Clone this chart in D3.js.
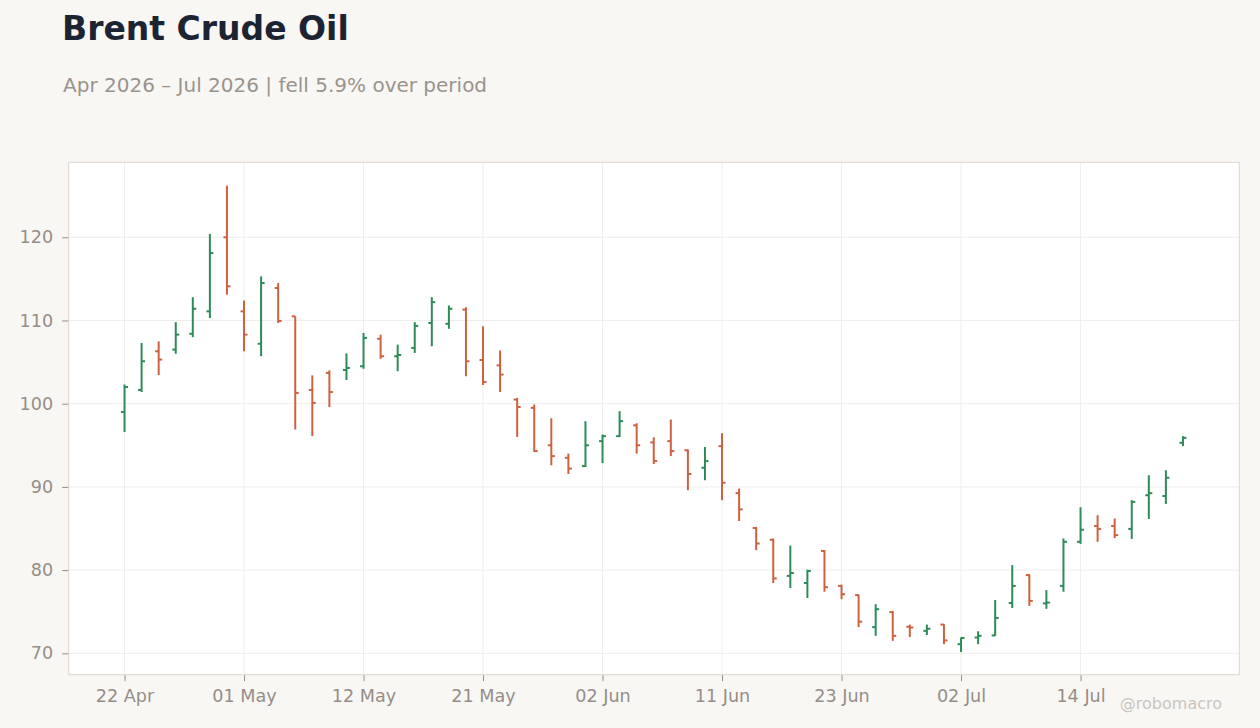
<!DOCTYPE html>
<html>
<head>
<meta charset="utf-8">
<script src="https://cdn.jsdelivr.net/npm/d3@7"></script>
<style>
  html, body { margin: 0; padding: 0; background: #f9f7f4; }
  svg { display: block; font-family: "DejaVu Sans", sans-serif; }
</style>
</head>
<body>
<svg id="chart" width="1260" height="728"></svg>
<script>
// ---- data ----
const dates = [
  "2026-04-22","2026-04-23","2026-04-24","2026-04-27","2026-04-28","2026-04-29","2026-04-30",
  "2026-05-01","2026-05-04","2026-05-05","2026-05-06","2026-05-07","2026-05-08","2026-05-11",
  "2026-05-12","2026-05-13","2026-05-14","2026-05-15","2026-05-18","2026-05-19","2026-05-20",
  "2026-05-21","2026-05-22","2026-05-26","2026-05-27","2026-05-28","2026-05-29","2026-06-01",
  "2026-06-02","2026-06-03","2026-06-04","2026-06-05","2026-06-08","2026-06-09","2026-06-10",
  "2026-06-11","2026-06-12","2026-06-15","2026-06-16","2026-06-17","2026-06-18","2026-06-22",
  "2026-06-23","2026-06-24","2026-06-25","2026-06-26","2026-06-29","2026-06-30","2026-07-01",
  "2026-07-02","2026-07-06","2026-07-07","2026-07-08","2026-07-09","2026-07-10","2026-07-13",
  "2026-07-14","2026-07-15","2026-07-16","2026-07-17","2026-07-20","2026-07-21","2026-07-22"
];
const open = [
  99.0,101.65,106.3,106.5,108.4,111.1,120.0,111.1,107.2,113.9,110.5,101.65,103.7,104.05,
  104.5,107.8,105.7,106.7,109.7,109.6,111.3,105.25,104.6,100.5,99.5,95.0,93.5,92.5,
  95.5,96.1,97.4,95.35,95.5,94.4,92.3,94.9,89.25,85.06,83.65,79.3,78.45,82.3,
  78.1,77.0,73.15,74.95,73.2,72.7,73.45,71.1,71.9,72.15,76.05,79.4,76.0,78.1,
  83.4,85.3,85.3,84.95,89.0,88.9,95.3
];
const high = [
  102.3,107.3,107.5,109.8,112.8,120.4,126.2,112.4,115.3,114.5,110.5,103.4,104.0,106.05,
  108.5,108.3,107.1,109.8,112.8,111.8,111.6,109.3,106.4,100.7,99.9,98.25,94.0,97.9,
  96.3,99.1,97.65,95.96,98.1,94.5,94.8,96.45,89.8,85.2,83.8,82.95,80.05,82.4,
  78.25,77.05,75.9,75.1,73.45,73.45,73.5,71.9,72.65,76.4,80.6,79.5,77.6,83.8,
  87.55,86.6,86.2,88.4,91.4,92.0,96.1
];
const low = [
  96.6,101.4,103.45,106.0,108.0,110.3,113.1,106.3,105.7,109.7,96.9,96.1,99.6,102.85,
  104.2,105.4,103.9,106.1,106.9,109.0,103.3,102.25,101.4,96.0,94.2,92.6,91.55,92.4,
  92.85,96.0,94.0,92.75,93.7,89.6,90.8,88.4,85.9,82.4,78.45,77.85,76.65,77.4,
  76.5,73.15,72.1,71.5,71.95,72.2,71.1,70.15,71.1,72.1,75.45,75.7,75.35,77.4,
  83.15,83.4,83.85,83.75,86.15,87.95,94.9
];
const close = [
  102.0,105.1,105.3,108.3,111.4,118.1,114.1,108.3,114.5,109.95,101.3,100.1,101.4,104.3,
  107.9,105.7,105.85,109.35,112.2,111.4,105.1,102.6,103.5,99.6,94.3,93.7,92.2,95.0,
  96.1,97.9,95.0,93.1,94.3,91.55,93.1,90.5,87.3,83.2,79.0,79.65,79.9,77.95,
  77.1,73.8,75.3,72.1,73.1,72.95,71.55,71.85,72.1,74.25,78.1,76.3,76.1,83.4,
  84.85,84.95,84.2,88.2,89.25,91.1,95.9
];
const xTickIndex = [0, 7, 14, 21, 28, 35, 42, 49, 56];
const xTickLabels = ["22 Apr","01 May","12 May","21 May","02 Jun","11 Jun","23 Jun","02 Jul","14 Jul"];
const yTicks = [70, 80, 90, 100, 110, 120];

const title = "Brent Crude Oil";
const subtitle = "Apr 2026 \u2013 Jul 2026 | fell 5.9% over period";
const credit = "@robomacro";

// ---- layout ----
const plot = { left: 68.7, right: 1239.3, top: 162.3, bottom: 674.7 };
const colors = { up: "#2e8b57", down: "#cf6140", grid: "#efeeec", frame: "#ddd6ce",
                 tick: "#958e87", title: "#1c2434", sub: "#9a938c", credit: "#c9c5c0" };

const svg = d3.select("#chart");

const x = d3.scaleLinear().domain([-3.27, 65.3]).range([plot.left, plot.right]);
const y = d3.scaleLinear().domain([67.43, 129.01]).range([plot.bottom, plot.top]);

// title
svg.append("text").attr("x", 62).attr("y", 40)
  .attr("font-size", 33).attr("font-weight", "bold").attr("fill", colors.title).text(title);
svg.append("text").attr("x", 63).attr("y", 92)
  .attr("font-size", 20).attr("fill", colors.sub).text(subtitle);

// plot background
svg.append("rect").attr("x", plot.left).attr("y", plot.top)
  .attr("width", plot.right - plot.left).attr("height", plot.bottom - plot.top)
  .attr("fill", "#ffffff");

// grid
const g = svg.append("g");
g.selectAll("line.hg").data(yTicks).enter().append("line")
  .attr("x1", plot.left).attr("x2", plot.right)
  .attr("y1", d => y(d)).attr("y2", d => y(d))
  .attr("stroke", colors.grid).attr("stroke-width", 1);
g.selectAll("line.vg").data(xTickIndex).enter().append("line")
  .attr("y1", plot.top).attr("y2", plot.bottom)
  .attr("x1", d => x(d)).attr("x2", d => x(d))
  .attr("stroke", colors.grid).attr("stroke-width", 1);

// frame
svg.append("rect").attr("x", plot.left).attr("y", plot.top)
  .attr("width", plot.right - plot.left).attr("height", plot.bottom - plot.top)
  .attr("fill", "none").attr("stroke", colors.frame).attr("stroke-width", 1);

// axes
const yAxis = d3.axisLeft(y).tickValues(yTicks).tickSize(6).tickPadding(9);
const yg = svg.append("g").attr("transform", `translate(${plot.left - 0.5},0)`).call(yAxis);
yg.select(".domain").remove();
yg.selectAll("line").attr("stroke", colors.tick);
yg.selectAll("text").attr("font-size", 17.6).attr("fill", colors.tick)
  .attr("font-family", "DejaVu Sans");

const xAxis = d3.axisBottom(x).tickValues(xTickIndex)
  .tickFormat((d, i) => xTickLabels[i]).tickSize(6).tickPadding(8);
const xg = svg.append("g").attr("transform", `translate(0,${plot.bottom + 0.5})`).call(xAxis);
xg.select(".domain").remove();
xg.selectAll("line").attr("stroke", colors.tick);
xg.selectAll("text").attr("font-size", 17.6).attr("fill", colors.tick)
  .attr("font-family", "DejaVu Sans");

// OHLC bars
const bars = dates.map((d, i) => ({ i, o: open[i], h: high[i], l: low[i], c: close[i] }));
const tickLen = 3.5;
const bg = svg.append("g");
const bar = bg.selectAll("g.bar").data(bars).enter().append("g")
  .attr("stroke", d => d.c >= d.o ? colors.up : colors.down)
  .attr("stroke-width", 2);
bar.append("line")
  .attr("x1", d => x(d.i)).attr("x2", d => x(d.i))
  .attr("y1", d => y(d.h)).attr("y2", d => y(d.l));
bar.append("line")
  .attr("x1", d => x(d.i) - tickLen).attr("x2", d => x(d.i))
  .attr("y1", d => y(d.o)).attr("y2", d => y(d.o));
bar.append("line")
  .attr("x1", d => x(d.i)).attr("x2", d => x(d.i) + tickLen)
  .attr("y1", d => y(d.c)).attr("y2", d => y(d.c));

// credit
svg.append("text").attr("x", 1222).attr("y", 709).attr("text-anchor", "end")
  .attr("font-size", 16).attr("fill", colors.credit).text(credit);
</script>
</body>
</html>
